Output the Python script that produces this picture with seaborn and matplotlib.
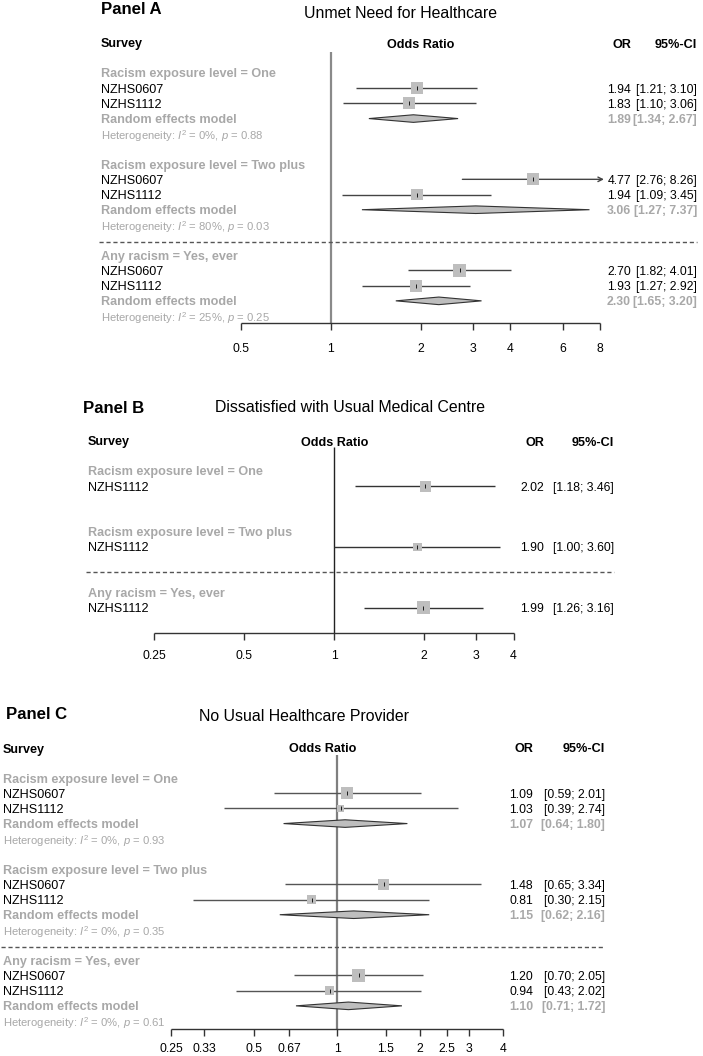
import numpy as np
import pandas as pd
import matplotlib
matplotlib.use("Agg")
import matplotlib.pyplot as plt
import matplotlib.transforms as mtransforms
from matplotlib.patches import Polygon
import seaborn as sns

sns.set_theme(style="white")
plt.rcParams['font.family'] = ['Liberation Sans', 'DejaVu Sans']
plt.rcParams['mathtext.fontset'] = 'custom'
plt.rcParams['mathtext.rm'] = 'Liberation Sans'
plt.rcParams['mathtext.it'] = 'Liberation Sans:italic'

# ---------------- data ----------------
panel_labels = ["Panel A", "Panel B", "Panel C"]
titles = ["Unmet Need for Healthcare",
          "Dissatisfied with Usual Medical Centre",
          "No Usual Healthcare Provider"]
subgroups = ["Racism exposure level = One",
             "Racism exposure level = Two plus",
             "Any racism = Yes, ever"]

# Panel A
A_studies = [["NZHS0607", "NZHS1112"], ["NZHS0607", "NZHS1112"], ["NZHS0607", "NZHS1112"]]
A_or = [[1.94, 1.83], [4.77, 1.94], [2.70, 1.93]]
A_lo = [[1.21, 1.10], [2.76, 1.09], [1.82, 1.27]]
A_hi = [[3.10, 3.06], [8.26, 3.45], [4.01, 2.92]]
A_w = [[94, 89], [94, 85], [94, 85]]
A_re = [1.89, 3.06, 2.30]
A_re_lo = [1.34, 1.27, 1.65]
A_re_hi = [2.67, 7.37, 3.20]
A_i2 = [0, 80, 25]
A_p = [0.88, 0.03, 0.25]
A_ticks = [0.5, 1, 2, 3, 4, 6, 8]
A_tick_labels = ["0.5", "1", "2", "3", "4", "6", "8"]

# Panel B
B_studies = [["NZHS1112"], ["NZHS1112"], ["NZHS1112"]]
B_or = [[2.02], [1.90], [1.99]]
B_lo = [[1.18], [1.00], [1.26]]
B_hi = [[3.46], [3.60], [3.16]]
B_w = [[75], [47], [100]]
B_ticks = [0.25, 0.5, 1, 2, 3, 4]
B_tick_labels = ["0.25", "0.5", "1", "2", "3", "4"]

# Panel C
C_studies = [["NZHS0607", "NZHS1112"], ["NZHS0607", "NZHS1112"], ["NZHS0607", "NZHS1112"]]
C_or = [[1.09, 1.03], [1.48, 0.81], [1.20, 0.94]]
C_lo = [[0.59, 0.39], [0.65, 0.30], [0.70, 0.43]]
C_hi = [[2.01, 2.74], [3.34, 2.15], [2.05, 2.02]]
C_w = [[85, 28], [75, 54], [100, 50]]
C_re = [1.07, 1.15, 1.10]
C_re_lo = [0.64, 0.62, 0.71]
C_re_hi = [1.80, 2.16, 1.72]
C_i2 = [0, 0, 0]
C_p = [0.93, 0.35, 0.61]
C_ticks = [0.25, 0.33, 0.5, 0.67, 1, 1.5, 2, 2.5, 3, 4]
C_tick_labels = ["0.25", "0.33", "0.5", "0.67", "1", "1.5", "2", "2.5", "3", "4"]

panels = [
    dict(studies=A_studies, est=A_or, lo=A_lo, hi=A_hi, w=A_w, re=A_re, re_lo=A_re_lo,
         re_hi=A_re_hi, i2=A_i2, p=A_p, ticks=A_ticks, tlabels=A_tick_labels),
    dict(studies=B_studies, est=B_or, lo=B_lo, hi=B_hi, w=B_w, re=None,
         ticks=B_ticks, tlabels=B_tick_labels),
    dict(studies=C_studies, est=C_or, lo=C_lo, hi=C_hi, w=C_w, re=C_re, re_lo=C_re_lo,
         re_hi=C_re_hi, i2=C_i2, p=C_p, ticks=C_ticks, tlabels=C_tick_labels),
]

# ---------------- layout (pixels) ----------------
W, H = 703, 1056
RH = 15.19
layouts = [
    dict(top=0, bottom=362, row0=73, one_px=331, dbl=89.7, left=101, or_right=631, ci_right=697,
         plabel_x=101, plabel_y=8, title_x=401, title_y=12, header_y=43, orhdr_x=421,
         block=6, dash=11.1, axis=16.46, vtop=-1.38, tlab=1.6,
         vcol='#8a8a8a', vlw=1.6, cicol='#444444'),
    dict(top=362, bottom=672, row0=471, one_px=334, dbl=89.8, left=88, or_right=544, ci_right=614,
         plabel_x=83, plabel_y=407, title_x=350, title_y=406, header_y=441, orhdr_x=335,
         block=4, dash=6.65, axis=10.66, vtop=-1.58, tlab=1.45,
         vcol='#222222', vlw=1.0, cicol='#333333'),
    dict(top=672, bottom=1056, row0=778, one_px=337, dbl=83.0, left=3, or_right=533, ci_right=605,
         plabel_x=6, plabel_y=713, title_x=304, title_y=715, header_y=748, orhdr_x=323,
         block=6, dash=11.1, axis=16.55, vtop=-1.5, tlab=1.22,
         vcol='#7f7f7f', vlw=1.6, cicol='#555555'),
]

GRAY = '#a8a8a8'
FS = 9.1
FS_NUM = 8.8
FS_HET = 8.1

fig = plt.figure(figsize=(W / 100, H / 100), dpi=100)

for pi, (pd_, L) in enumerate(zip(panels, layouts)):
    ax = fig.add_axes([0, 1 - L['bottom'] / H, 1, (L['bottom'] - L['top']) / H])
    ax.axis('off')

    def yrow(px, L=L):
        return (px - L['row0']) / RH

    def fx(px):
        return px / W

    trans = mtransforms.blended_transform_factory(ax.transAxes, ax.transData)

    rows_sq = []
    xmin_ax, xmax_ax = pd_['ticks'][0], pd_['ticks'][-1]
    for g, sg in enumerate(subgroups):
        base = g * L['block']
        ax.text(fx(L['left']), base, sg, transform=trans, ha='left', va='center_baseline',
                fontsize=FS, fontweight='bold', color=GRAY)
        for k, name in enumerate(pd_['studies'][g]):
            r = base + 1 + k
            est, lo, hi, w = pd_['est'][g][k], pd_['lo'][g][k], pd_['hi'][g][k], pd_['w'][g][k]
            ax.text(fx(L['left']), r, name, transform=trans, ha='left', va='center_baseline',
                    fontsize=FS, color='black')
            ax.text(fx(L['or_right']), r, f"{est:.2f}", transform=trans, ha='right',
                    va='center_baseline', fontsize=FS_NUM, color='black')
            ax.text(fx(L['ci_right']), r, f"[{lo:.2f}; {hi:.2f}]", transform=trans, ha='right',
                    va='center_baseline', fontsize=FS_NUM, color='black')
            x0 = max(lo, xmin_ax)
            if hi > xmax_ax:
                ax.annotate('', xy=(xmax_ax * 1.03, r), xytext=(x0, r),
                            arrowprops=dict(arrowstyle='->', color=L['cicol'], lw=1.0,
                                            shrinkA=0, shrinkB=0, mutation_scale=8))
            else:
                ax.hlines(r, x0, min(hi, xmax_ax), color=L['cicol'], lw=1.0, zorder=2)
            rows_sq.append(dict(est=est, row=r, w=w))
        if pd_['re'] is not None:
            r = base + 1 + len(pd_['studies'][g])
            re, rlo, rhi = pd_['re'][g], pd_['re_lo'][g], pd_['re_hi'][g]
            ax.text(fx(L['left']), r, "Random effects model", transform=trans, ha='left',
                    va='center_baseline', fontsize=FS, fontweight='bold', color=GRAY)
            ax.text(fx(L['or_right']), r, f"{re:.2f}", transform=trans, ha='right',
                    va='center_baseline', fontsize=FS_NUM, fontweight='bold', color=GRAY)
            ax.text(fx(L['ci_right']), r, f"[{rlo:.2f}; {rhi:.2f}]", transform=trans, ha='right',
                    va='center_baseline', fontsize=FS_NUM, fontweight='bold', color=GRAY)
            h = 0.25
            ax.add_patch(Polygon([(rlo, r), (re, r - h), (rhi, r), (re, r + h)], closed=True,
                                 facecolor='#bebebe', edgecolor='#333333', lw=0.8, zorder=3))
            het = (f"Heterogeneity: $\\mathit{{I}}^2$ = {pd_['i2'][g]}%, "
                   f"$\\mathit{{p}}$ = {pd_['p'][g]:.2f}")
            ax.text(fx(L['left']), r + 1, het, transform=trans, ha='left', va='center_baseline',
                    fontsize=FS_HET, color=GRAY)

    df = pd.DataFrame(rows_sq)
    sns.scatterplot(data=df, x='est', y='row', size='w', sizes=(0, 83.6), size_norm=(0, 100),
                    marker='s', color='#bebebe', linewidth=0, legend=False, ax=ax, zorder=4)
    ax.scatter(df['est'], df['row'], marker='|', s=12, color='black', linewidths=0.6, zorder=5)

    # reference line and axis
    ax.vlines(1, L['vtop'], L['axis'], color=L['vcol'], lw=L['vlw'], zorder=1)
    ax.hlines(L['axis'], xmin_ax, xmax_ax, color='#333333', lw=1.0)
    ax.vlines(pd_['ticks'], L['axis'], L['axis'] + 0.45, color='#333333', lw=1.0)
    for t, tl in zip(pd_['ticks'], pd_['tlabels']):
        ax.text(t, L['axis'] + L['tlab'], tl, ha='center', va='center_baseline',
                fontsize=FS_NUM, color='black')

    # dashed separator
    ax.axhline(L['dash'], xmin=fx(L['left'] - 2), xmax=fx(L['ci_right']), color='#555555',
               lw=1.0, linestyle=(0, (3, 2)))

    # headers
    hy = yrow(L['header_y'])
    ax.text(fx(L['left']), hy, "Survey", transform=trans, ha='left', va='center_baseline',
            fontsize=FS, fontweight='bold', color='black')
    ax.text(fx(L['orhdr_x']), hy, "Odds Ratio", transform=trans, ha='center',
            va='center_baseline', fontsize=FS, fontweight='bold', color='black')
    ax.text(fx(L['or_right']), hy, "OR", transform=trans, ha='right', va='center_baseline',
            fontsize=FS, fontweight='bold', color='black')
    ax.text(fx(L['ci_right']), hy, "95%-CI", transform=trans, ha='right', va='center_baseline',
            fontsize=FS, fontweight='bold', color='black')

    # panel label & title
    ax.text(fx(L['plabel_x']), yrow(L['plabel_y']), panel_labels[pi], transform=trans,
            ha='left', va='center_baseline', fontsize=12.1, fontweight='bold', color='black')
    ax.text(fx(L['title_x']), yrow(L['title_y']), titles[pi], transform=trans,
            ha='center', va='center_baseline', fontsize=11.4, color='black')

    ax.set_xscale('log')
    ax.set_xlim(2 ** (-L['one_px'] / L['dbl']), 2 ** ((W - L['one_px']) / L['dbl']))
    ax.set_ylim(yrow(L['bottom']), yrow(L['top']))
    ax.axis('off')

fig.savefig("out.png", dpi=100, facecolor='white')
